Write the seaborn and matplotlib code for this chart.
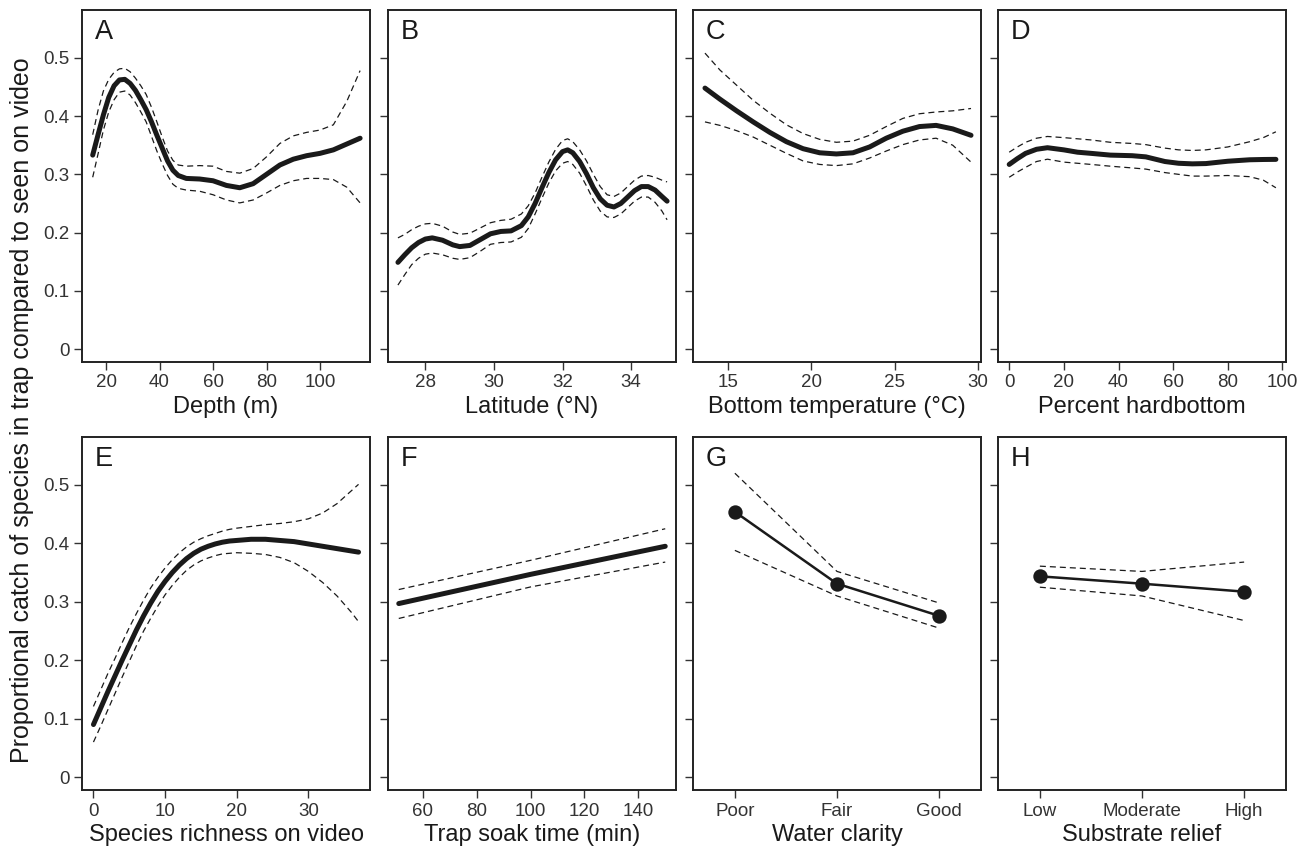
import matplotlib
matplotlib.use("Agg")
import matplotlib.pyplot as plt
import seaborn as sns

# A: depth
depth_x = [15, 17, 19, 21, 23, 25, 27, 29, 31, 33, 35, 37, 39, 41, 43, 45, 47, 50, 55, 60, 65, 70, 75, 80,
           85, 90, 95, 100, 105, 110, 115]
depth_fit = [0.333, 0.368, 0.402, 0.432, 0.452, 0.462, 0.463, 0.456, 0.444, 0.428, 0.411, 0.39, 0.367, 0.345,
             0.323, 0.307, 0.298, 0.293, 0.292, 0.289, 0.281, 0.277, 0.284, 0.300, 0.316, 0.326, 0.332, 0.336,
             0.342, 0.352, 0.362]
depth_hi = [0.368, 0.41, 0.443, 0.463, 0.475, 0.481, 0.482, 0.476, 0.465, 0.452, 0.437, 0.415, 0.39, 0.364,
            0.34, 0.324, 0.316, 0.314, 0.315, 0.314, 0.305, 0.302, 0.310, 0.33, 0.353, 0.366, 0.372, 0.376,
            0.385, 0.425, 0.478]
depth_lo = [0.295, 0.335, 0.376, 0.407, 0.428, 0.441, 0.443, 0.436, 0.423, 0.407, 0.39, 0.365, 0.34, 0.318,
            0.298, 0.283, 0.276, 0.273, 0.271, 0.265, 0.256, 0.251, 0.256, 0.268, 0.281, 0.289, 0.293, 0.293,
            0.291, 0.278, 0.251]

# B: latitude
lat_x = [27.2, 27.4, 27.6, 27.8, 28.0, 28.2, 28.5, 28.8, 29.0, 29.3, 29.6, 29.9, 30.2, 30.5, 30.8, 31.0,
         31.2, 31.4, 31.6, 31.8, 32.0, 32.15, 32.3, 32.5, 32.7, 32.9, 33.1, 33.3, 33.5, 33.7, 33.9, 34.1,
         34.3, 34.5, 34.7, 34.9, 35.05]
lat_fit = [0.149, 0.162, 0.174, 0.183, 0.189, 0.191, 0.187, 0.179, 0.176, 0.178, 0.188, 0.198, 0.202, 0.203,
           0.212, 0.227, 0.250, 0.277, 0.303, 0.325, 0.339, 0.342, 0.337, 0.322, 0.301, 0.277, 0.258, 0.247,
           0.244, 0.250, 0.261, 0.272, 0.279, 0.279, 0.273, 0.262, 0.254]
lat_hi = [0.191, 0.197, 0.205, 0.211, 0.215, 0.216, 0.211, 0.201, 0.197, 0.199, 0.208, 0.217, 0.221, 0.223,
          0.232, 0.246, 0.268, 0.295, 0.321, 0.343, 0.358, 0.361, 0.356, 0.342, 0.323, 0.300, 0.279, 0.265,
          0.262, 0.268, 0.279, 0.290, 0.297, 0.298, 0.295, 0.290, 0.287]
lat_lo = [0.110, 0.128, 0.145, 0.156, 0.163, 0.165, 0.162, 0.156, 0.154, 0.157, 0.168, 0.180, 0.183, 0.184,
          0.192, 0.207, 0.232, 0.259, 0.285, 0.306, 0.319, 0.322, 0.317, 0.302, 0.280, 0.256, 0.237, 0.227,
          0.226, 0.232, 0.243, 0.254, 0.261, 0.261, 0.252, 0.237, 0.222]

# C: bottom temperature
temp_x = [13.6, 14.5, 15.5, 16.5, 17.5, 18.5, 19.5, 20.5, 21.5, 22.5, 23.5, 24.5, 25.5, 26.5, 27.5, 28.5, 29.6]
temp_fit = [0.448, 0.429, 0.409, 0.390, 0.372, 0.356, 0.344, 0.337, 0.335, 0.337, 0.347, 0.362, 0.374, 0.382,
            0.384, 0.378, 0.367]
temp_hi = [0.508, 0.479, 0.453, 0.427, 0.405, 0.385, 0.370, 0.360, 0.355, 0.357, 0.367, 0.382, 0.396, 0.404,
           0.407, 0.409, 0.413]
temp_lo = [0.390, 0.384, 0.375, 0.364, 0.350, 0.336, 0.323, 0.317, 0.315, 0.318, 0.328, 0.340, 0.351, 0.359,
           0.362, 0.350, 0.321]

# D: percent hardbottom
hard_x = [0, 3, 6, 10, 14, 20, 25, 30, 37, 45, 50, 57, 62, 67, 72, 80, 88, 93, 97.6]
hard_fit = [0.317, 0.327, 0.336, 0.343, 0.3457, 0.342, 0.338, 0.336, 0.333, 0.332, 0.330, 0.322, 0.319, 0.318,
            0.3185, 0.3225, 0.325, 0.3255, 0.3257]
hard_hi = [0.338, 0.347, 0.355, 0.362, 0.365, 0.363, 0.361, 0.359, 0.355, 0.353, 0.351, 0.345, 0.342, 0.341,
           0.342, 0.347, 0.356, 0.363, 0.373]
hard_lo = [0.295, 0.304, 0.312, 0.322, 0.326, 0.321, 0.319, 0.317, 0.314, 0.311, 0.309, 0.303, 0.300, 0.297,
           0.297, 0.298, 0.296, 0.290, 0.277]

# E: species richness
rich_x = [0, 1, 2, 3, 4, 5, 6, 7, 8, 9, 10, 11, 12, 13, 14, 15, 16, 17, 18, 19, 20, 22, 24, 26, 28, 30, 32,
          34, 36, 37]
rich_fit = [0.090, 0.118, 0.146, 0.173, 0.200, 0.226, 0.252, 0.276, 0.298, 0.318, 0.335, 0.350, 0.363, 0.374,
            0.383, 0.390, 0.395, 0.399, 0.402, 0.404, 0.405, 0.407, 0.407, 0.405, 0.403, 0.399, 0.395, 0.391,
            0.387, 0.385]
rich_hi = [0.121, 0.149, 0.177, 0.203, 0.230, 0.256, 0.280, 0.303, 0.324, 0.342, 0.358, 0.372, 0.384, 0.394,
           0.402, 0.408, 0.413, 0.417, 0.421, 0.424, 0.426, 0.429, 0.432, 0.434, 0.437, 0.442, 0.452, 0.468,
           0.490, 0.501]
rich_lo = [0.060, 0.087, 0.115, 0.143, 0.171, 0.198, 0.225, 0.250, 0.272, 0.293, 0.312, 0.328, 0.342, 0.354,
           0.363, 0.370, 0.375, 0.379, 0.382, 0.383, 0.384, 0.383, 0.381, 0.376, 0.367, 0.352, 0.333, 0.310,
           0.282, 0.266]

# F: soak time
soak_x = [51, 100, 150]
soak_fit = [0.297, 0.347, 0.395]
soak_hi = [0.321, 0.371, 0.425]
soak_lo = [0.2715, 0.3255, 0.368]

# G: water clarity
clarity = ["Poor", "Fair", "Good"]
clarity_fit = [0.454, 0.331, 0.276]
clarity_hi = [0.520, 0.352, 0.298]
clarity_lo = [0.388, 0.310, 0.255]

# H: substrate relief
relief = ["Low", "Moderate", "High"]
relief_fit = [0.3436, 0.331, 0.3174]
relief_hi = [0.361, 0.352, 0.368]
relief_lo = [0.325, 0.310, 0.268]

y_ticks = [0, 0.1, 0.2, 0.3, 0.4, 0.5]
y_labels = ["0", "0.1", "0.2", "0.3", "0.4", "0.5"]

sns.set_style("ticks")
plt.rcParams["font.family"] = ["Liberation Sans", "DejaVu Sans"]

ink = "#1a1a1a"
dash = (0, (4.8, 3.2))

fig = plt.figure(figsize=(13.09, 8.49), dpi=100)

col_left = [82, 388, 693, 998]
row_top = [(10, 362), (437, 790)]
W, H = 1309, 849


def make_ax(r, c):
    top, bot = row_top[r]
    ax = fig.add_axes([col_left[c] / W, 1 - bot / H, 288 / W, (bot - top) / H])
    return ax


continuous = [
    (0, 0, "A", depth_x, depth_fit, depth_hi, depth_lo, [20, 40, 60, 80, 100], (11, 118.7), "Depth (m)"),
    (0, 1, "B", lat_x, lat_fit, lat_hi, lat_lo, [28, 30, 32, 34], (26.91, 35.31), "Latitude (°N)"),
    (0, 2, "C", temp_x, temp_fit, temp_hi, temp_lo, [15, 20, 25, 30], (12.88, 30.2), "Bottom temperature (°C)"),
    (0, 3, "D", hard_x, hard_fit, hard_hi, hard_lo, [0, 20, 40, 60, 80, 100], (-4.1, 101.3), "Percent hardbottom"),
    (1, 0, "E", rich_x, rich_fit, rich_hi, rich_lo, [0, 10, 20, 30], (-1.6, 38.6), "Species richness on video"),
    (1, 1, "F", soak_x, soak_fit, soak_hi, soak_lo, [60, 80, 100, 120, 140], (47, 154), "Trap soak time (min)"),
]

axes = []
for r, c, letter, x, fit, hi, lo, xt, xl, lab in continuous:
    ax = make_ax(r, c)
    sns.lineplot(x=x, y=hi, ax=ax, color=ink, linewidth=0.9, linestyle=dash)
    sns.lineplot(x=x, y=lo, ax=ax, color=ink, linewidth=0.9, linestyle=dash)
    sns.lineplot(x=x, y=fit, ax=ax, color=ink, linewidth=3.6, solid_capstyle="round", solid_joinstyle="round")
    ax.set_xticks(xt)
    ax.set_xlim(*xl)
    ax.set_xlabel(lab)
    axes.append((ax, c, letter))

categorical = [
    (1, 2, "G", clarity, clarity_fit, clarity_hi, clarity_lo, "Water clarity"),
    (1, 3, "H", relief, relief_fit, relief_hi, relief_lo, "Substrate relief"),
]
for r, c, letter, cats, fit, hi, lo, lab in categorical:
    ax = make_ax(r, c)
    sns.pointplot(x=cats, y=hi, ax=ax, color=ink, errorbar=None, marker="", linestyle=dash, linewidth=0.9)
    sns.pointplot(x=cats, y=lo, ax=ax, color=ink, errorbar=None, marker="", linestyle=dash, linewidth=0.9)
    sns.pointplot(x=cats, y=fit, ax=ax, color=ink, errorbar=None, marker="o", markersize=9, linewidth=1.8)
    ax.set_xlim(-0.41, 2.41)
    ax.set_xlabel(lab)
    axes.append((ax, c, letter))

for ax, c, letter in axes:
    ax.set_ylim(-0.022, 0.582)
    ax.set_yticks(y_ticks)
    if c == 0:
        ax.set_yticklabels(y_labels)
    else:
        ax.set_yticklabels([])
    ax.set_ylabel("")
    for s in ax.spines.values():
        s.set_visible(True)
        s.set_linewidth(1.4)
        s.set_color("#222222")
    ax.tick_params(axis="both", direction="out", length=5.5, width=1.0, color="#333333",
                   labelsize=13.5, labelcolor="#333333", pad=3.5)
    ax.xaxis.label.set_size(17)
    ax.xaxis.label.set_color(ink)
    ax.xaxis.labelpad = 3
    ax.text(0.045, 0.975, letter, transform=ax.transAxes, ha="left", va="top", fontsize=19.5, color=ink)

fig.text(22 / W, 1 - 410 / H, "Proportional catch of species in trap compared to seen on video",
         rotation=90, ha="center", va="center", fontsize=18, color=ink)

fig.savefig("out.png", dpi=100)
